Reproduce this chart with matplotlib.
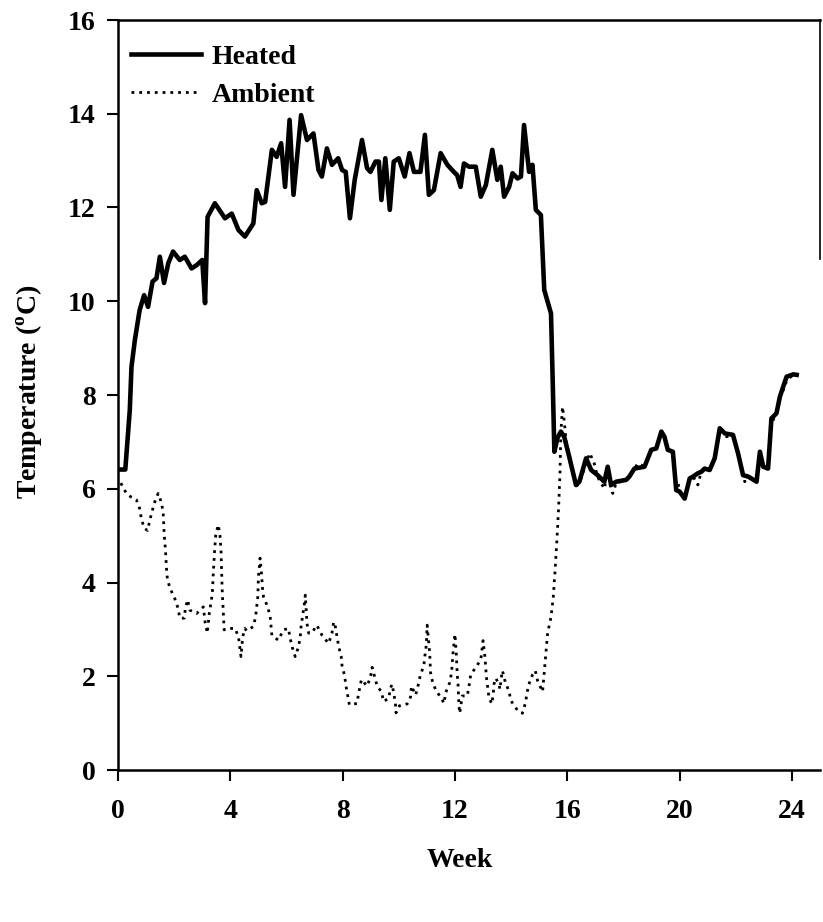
import matplotlib
matplotlib.use("Agg")
import matplotlib.pyplot as plt

# Heated plot temperature (week, degC)
heated_week = [0.08, 0.26, 0.42, 0.48, 0.60, 0.77, 0.93, 1.07, 1.23, 1.37, 1.49, 1.64, 1.79, 1.96,
               2.20, 2.38, 2.62, 2.80, 3.00, 3.10, 3.19, 3.45, 3.81, 4.05, 4.29, 4.52, 4.82, 4.94,
               5.12, 5.24, 5.48, 5.65, 5.81, 5.95, 6.11, 6.25, 6.52, 6.73, 6.96, 7.14, 7.26, 7.44,
               7.62, 7.84, 7.98, 8.11, 8.26, 8.43, 8.69, 8.87, 8.99, 9.17, 9.29, 9.38, 9.52, 9.68,
               9.82, 10.00, 10.21, 10.38, 10.54, 10.77, 10.93, 11.07, 11.25, 11.49, 11.73, 11.96,
               12.08, 12.20, 12.32, 12.50, 12.74, 12.92, 13.10, 13.33, 13.51, 13.63, 13.75, 13.93,
               14.05, 14.23, 14.35, 14.46, 14.64, 14.76, 14.88, 15.06, 15.18, 15.42, 15.48, 15.54,
               15.65, 15.77, 15.89, 16.07, 16.31, 16.43, 16.67, 16.85, 17.08, 17.32, 17.44, 17.56,
               17.74, 18.10, 18.21, 18.39, 18.75, 18.99, 19.17, 19.35, 19.46, 19.58, 19.76, 19.88,
               20.00, 20.18, 20.36, 20.48, 20.65, 20.77, 20.89, 21.07, 21.25, 21.43, 21.61, 21.90,
               22.08, 22.26, 22.44, 22.74, 22.86, 22.98, 23.15, 23.27, 23.45, 23.57, 23.69, 23.81,
               24.05, 24.17]
heated_temp = [6.41, 6.41, 7.68, 8.60, 9.17, 9.81, 10.13, 9.88, 10.42, 10.49, 10.95, 10.39, 10.81, 11.06,
               10.88, 10.95, 10.70, 10.77, 10.88, 9.96, 11.80, 12.09, 11.77, 11.87, 11.52, 11.38, 11.66, 12.37,
               12.09, 12.12, 13.23, 13.08, 13.37, 12.44, 13.87, 12.27, 13.97, 13.44, 13.58, 12.80, 12.66, 13.26,
               12.91, 13.05, 12.80, 12.76, 11.77, 12.59, 13.44, 12.84, 12.76, 12.98, 12.98, 12.16, 13.05, 11.95,
               12.98, 13.05, 12.66, 13.16, 12.76, 12.76, 13.55, 12.27, 12.37, 13.16, 12.91, 12.76,
               12.69, 12.44, 12.94, 12.87, 12.87, 12.23, 12.48, 13.23, 12.59, 12.87, 12.23, 12.44,
               12.73, 12.62, 12.66, 13.76, 12.76, 12.91, 11.95, 11.84, 10.24, 9.74, 8.32, 6.79,
               7.08, 7.22, 7.11, 6.68, 6.08, 6.15, 6.65, 6.40, 6.29, 6.15, 6.47, 6.08,
               6.15, 6.19, 6.26, 6.43, 6.47, 6.83, 6.86, 7.22, 7.11, 6.83, 6.79, 5.97,
               5.94, 5.79, 6.22, 6.26, 6.33, 6.36, 6.43, 6.40, 6.65, 7.29, 7.18, 7.15,
               6.76, 6.29, 6.26, 6.15, 6.79, 6.47, 6.43, 7.50, 7.61, 7.96, 8.18, 8.39,
               8.44, 8.43]

# Ambient plot temperature (week, degC)
ambient_week = [0.10, 0.30, 0.45, 0.65, 0.77, 0.83, 0.93, 1.05, 1.13, 1.21, 1.31, 1.43, 1.55, 1.61,
                1.64, 1.69, 1.73, 1.76, 1.85, 2.02, 2.14, 2.20, 2.36, 2.40, 2.48, 2.56, 2.80, 3.04,
                3.10, 3.18, 3.25, 3.31, 3.36, 3.39, 3.43, 3.48, 3.57, 3.63, 3.67, 3.69, 3.71, 3.75,
                3.78, 3.99, 4.17, 4.29, 4.38, 4.44, 4.52, 4.58, 4.82, 4.90, 4.94, 4.98, 5.00, 5.06,
                5.12, 5.14, 5.18, 5.33, 5.42, 5.48, 5.71, 5.89, 6.07, 6.13, 6.21, 6.31, 6.43, 6.49,
                6.52, 6.57, 6.64, 6.67, 6.73, 6.79, 6.90, 7.08, 7.26, 7.50, 7.62, 7.68, 7.74, 7.86,
                7.95, 7.98, 8.07, 8.12, 8.19, 8.24, 8.51, 8.57, 8.67, 8.87, 8.99, 9.05, 9.14, 9.23,
                9.38, 9.46, 9.64, 9.70, 9.76, 9.82, 9.88, 9.90, 10.02, 10.30, 10.42, 10.45, 10.60,
                10.69, 10.77, 10.89, 10.93, 10.98, 11.01, 11.07, 11.10, 11.13, 11.21, 11.33, 11.52,
                11.61, 11.67, 11.81, 11.88, 11.93, 12.00, 12.05, 12.08, 12.11, 12.14, 12.17, 12.26,
                12.44, 12.50, 12.56, 12.74, 12.92, 13.00, 13.07, 13.12, 13.21, 13.31, 13.36, 13.39,
                13.45, 13.57, 13.60, 13.67, 13.69, 13.79, 13.93, 13.99, 14.23, 14.40, 14.50, 14.62,
                14.76, 14.86, 14.94, 15.12, 15.18, 15.24, 15.30, 15.42, 15.50, 15.57, 15.63, 15.69,
                15.74, 15.77, 15.83, 15.90, 15.95, 16.07, 16.31, 16.43, 16.80, 16.96, 17.08, 17.32,
                17.44, 17.56, 17.62, 17.74, 18.10, 18.21, 18.39, 18.51, 18.75, 18.99, 19.17, 19.35,
                19.46, 19.58, 19.76, 19.88, 19.94, 20.00, 20.18, 20.36, 20.48, 20.65, 20.77, 20.89,
                21.07, 21.25, 21.43, 21.67, 21.90, 22.08, 22.26, 22.32, 22.44, 22.74, 22.86, 22.98,
                23.15, 23.27, 23.45, 23.57, 23.69, 23.81, 24.05, 24.17]
ambient_temp = [6.12, 5.90, 5.83, 5.77, 5.58, 5.37, 5.16, 5.11, 5.32, 5.51, 5.72, 5.90, 5.70, 5.48,
                5.08, 4.69, 4.27, 4.07, 3.88, 3.66, 3.45, 3.24, 3.24, 3.45, 3.63, 3.41, 3.34, 3.48,
                3.16, 2.92, 3.34, 3.56, 3.77, 4.16, 4.59, 5.01, 5.23, 5.01, 4.66, 4.23, 3.84, 3.38,
                2.99, 3.02, 3.02, 2.84, 2.42, 2.84, 3.02, 2.97, 3.06, 3.27, 3.48, 3.70, 4.12, 4.52,
                4.12, 3.91, 3.70, 3.48, 3.27, 2.87, 2.77, 2.99, 3.02, 2.81, 2.61, 2.42, 2.63, 2.84,
                3.06, 3.27, 3.56, 3.73, 3.13, 2.92, 2.92, 3.09, 2.88, 2.70, 2.92, 3.16, 3.06, 2.63,
                2.42, 2.22, 2.01, 1.79, 1.56, 1.39, 1.42, 1.64, 1.93, 1.79, 1.98, 2.19, 1.99, 1.79,
                1.67, 1.46, 1.53, 1.74, 1.83, 1.64, 1.42, 1.22, 1.37, 1.41, 1.56, 1.79, 1.60,
                1.81, 2.03, 2.22, 2.44, 2.67, 3.09, 2.70, 2.49, 2.08, 1.86, 1.69, 1.53,
                1.42, 1.65, 1.86, 2.08, 2.49, 2.90, 2.45, 2.05, 1.83, 1.39, 1.21, 1.58,
                1.58, 1.79, 2.03, 2.19, 2.35, 2.76, 2.40, 1.98, 1.55, 1.41, 1.60, 1.83,
                1.96, 1.83, 1.72, 2.06, 2.12, 1.88, 1.67, 1.48, 1.27, 1.21, 1.41, 1.81,
                2.03, 2.12, 1.91, 1.67, 2.08, 2.50, 2.92, 3.26, 3.68, 4.30, 4.90, 5.58,
                6.33, 7.18, 7.75, 7.40, 7.05, 6.72, 6.05, 6.12, 6.76, 6.54, 6.25, 6.00,
                6.40, 5.98, 5.90, 6.12, 6.19, 6.26, 6.43, 6.54, 6.47, 6.83, 6.86, 7.22,
                7.11, 6.83, 6.79, 6.00, 6.15, 5.94, 5.82, 6.20, 6.26, 6.08, 6.36, 6.43,
                6.40, 6.65, 7.29, 7.11, 7.15, 6.76, 6.29, 6.15, 6.26, 6.15, 6.79, 6.47,
                6.43, 7.39, 7.61, 7.96, 8.10, 8.30, 8.44, 8.43]

y_ticks = [0, 2, 4, 6, 8, 10, 12, 14, 16]
x_ticks = [0, 4, 8, 12, 16, 20, 24]

serif = ["Liberation Serif", "DejaVu Serif"]
plt.rcParams["font.family"] = serif
plt.rcParams["font.weight"] = "bold"
plt.rcParams["mathtext.fontset"] = "custom"
plt.rcParams["mathtext.bf"] = "Liberation Serif:bold"
plt.rcParams["mathtext.rm"] = "Liberation Serif:bold"

FS = 20

W, H = 823, 922
fig = plt.figure(figsize=(W / 100, H / 100), dpi=100)
left_px, right_px, top_px, bottom_px = 118, 820, 20, 770
ax = fig.add_axes([left_px / W, 1 - bottom_px / H,
                   (right_px - left_px) / W, (bottom_px - top_px) / H])

ax.plot(ambient_week, ambient_temp, color="black", lw=2.0, linestyle=(0, (1, 1.8)),
        label="Ambient", zorder=2)
ax.plot(heated_week, heated_temp, color="black", lw=3.3, solid_joinstyle="round",
        label="Heated", zorder=3)

ax.set_xlim(0, 25)
ax.set_ylim(0, 16)
ax.set_xticks(x_ticks)
ax.set_yticks(y_ticks)
ax.tick_params(axis="both", direction="out", length=8, width=1.5, labelsize=FS)
ax.tick_params(axis="y", pad=8)
ax.tick_params(axis="x", pad=13)
for lab in ax.get_xticklabels() + ax.get_yticklabels():
    lab.set_fontweight("bold")

for side in ["left", "bottom", "top"]:
    ax.spines[side].set_linewidth(1.8)
ax.spines["right"].set_linewidth(1.2)
ax.spines["right"].set_bounds(10.9, 16)

ax.set_ylabel(r"Temperature ($^{\mathbf{o}}$C)", fontsize=FS, fontweight="bold")
ax.yaxis.set_label_coords(-0.104, 0.504)
fig.text(460 / W, 1 - 860 / H, "Week", ha="center", va="center", fontsize=FS, fontweight="bold")

handles, labels = ax.get_legend_handles_labels()
leg = ax.legend(handles[::-1], labels[::-1], loc="upper left", frameon=False, fontsize=FS,
                handlelength=2.5, handletextpad=0.4, labelspacing=0.45,
                borderaxespad=0.0, borderpad=0.1, bbox_to_anchor=(0.015, 0.971))
for t in leg.get_texts():
    t.set_fontweight("bold")

fig.savefig("out.png", dpi=100)
